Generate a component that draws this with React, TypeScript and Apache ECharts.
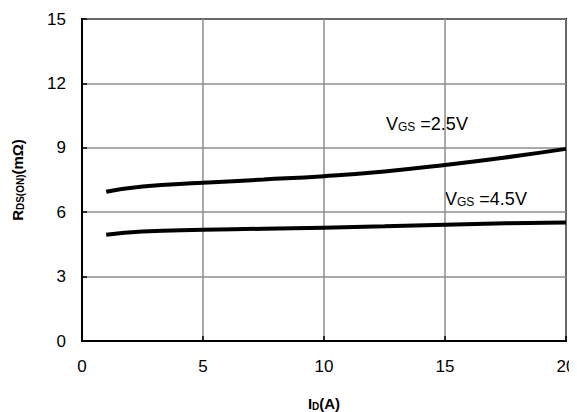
import React, { useEffect, useRef } from "react";
import * as echarts from "echarts";

const currentA = [1, 2.5, 5, 7.5, 10, 12.5, 15, 17.5, 20];
const rdsVgs25 = [6.95, 7.2, 7.37, 7.52, 7.68, 7.9, 8.2, 8.55, 8.95];
const rdsVgs45 = [4.95, 5.1, 5.18, 5.23, 5.28, 5.34, 5.42, 5.48, 5.52];
const xTicks = [0, 5, 10, 15, 20];
const yTicks = [0, 3, 6, 9, 12, 15];

const FONT = "'Liberation Sans', Arial, sans-serif";

const curveLabel = (text: string, left: number, top: number) => ({
  type: "text",
  left,
  top,
  style: {
    text,
    rich: {
      b: { fontSize: 18, fontFamily: FONT, fill: "#000" },
      s: { fontSize: 12, fontFamily: FONT, fill: "#000", padding: [5, 0, 0, 0] },
    },
  },
});

export default function App() {
  const ref = useRef<HTMLDivElement>(null);

  useEffect(() => {
    if (!ref.current) return;
    const chart = echarts.init(ref.current, null, { renderer: "svg" });
    const toPairs = (ys: number[]) => currentA.map((x, i) => [x, ys[i]]);

    chart.setOption({
      animation: false,
      backgroundColor: "#ffffff",
      grid: {
        left: 74,
        right: 11,
        top: 11,
        bottom: 71,
        show: true,
        borderColor: "#000",
        borderWidth: 2,
        containLabel: false,
        outerBoundsMode: "none",
      },
      xAxis: {
        type: "value",
        min: xTicks[0],
        max: xTicks[xTicks.length - 1],
        interval: 5,
        axisLine: { show: true, lineStyle: { color: "#000", width: 2 } },
        axisTick: { show: true, inside: true, length: 5, lineStyle: { color: "#000", width: 1.5 } },
        splitLine: { show: true, lineStyle: { color: "#8c8c8c", width: 1.5 } },
        axisLabel: { color: "#000", fontSize: 17, fontFamily: FONT, margin: 17 },
        name: "{b|I}{s|D}{b|(A)}",
        nameLocation: "middle",
        nameGap: 55,
        nameTextStyle: {
          rich: {
            b: { fontSize: 15, fontWeight: "bold", fontFamily: FONT, color: "#000" },
            s: { fontSize: 10, fontWeight: "bold", fontFamily: FONT, color: "#000", padding: [5, 0, 0, 0] },
          },
        },
      },
      yAxis: {
        type: "value",
        min: yTicks[0],
        max: yTicks[yTicks.length - 1],
        interval: 3,
        axisLine: { show: true, lineStyle: { color: "#000", width: 2 } },
        axisTick: { show: true, inside: true, length: 5, lineStyle: { color: "#000", width: 1.5 } },
        splitLine: { show: true, lineStyle: { color: "#8c8c8c", width: 1.5 } },
        axisLabel: { color: "#000", fontSize: 17, fontFamily: FONT, margin: 16 },
        name: "{b|R}{s|DS(ON)}{b|(mΩ)}",
        nameLocation: "middle",
        nameGap: 57,
        nameRotate: 90,
        nameTextStyle: {
          rich: {
            b: { fontSize: 15, fontWeight: "bold", fontFamily: FONT, color: "#000" },
            s: { fontSize: 10, fontWeight: "bold", fontFamily: FONT, color: "#000", padding: [5, 0, 0, 0] },
          },
        },
      },
      series: [
        {
          type: "line",
          data: toPairs(rdsVgs25),
          smooth: true,
          symbol: "none",
          lineStyle: { color: "#000", width: 4 },
        },
        {
          type: "line",
          data: toPairs(rdsVgs45),
          smooth: true,
          symbol: "none",
          lineStyle: { color: "#000", width: 4 },
        },
      ],
      graphic: [
        curveLabel("{b|V}{s|GS}{b| =2.5V}", 378, 107),
        curveLabel("{b|V}{s|GS}{b| =4.5V}", 437, 182),
      ],
    });

    return () => chart.dispose();
  }, []);

  return <div ref={ref} style={{ width: 569, height: 404 }} />;
}
